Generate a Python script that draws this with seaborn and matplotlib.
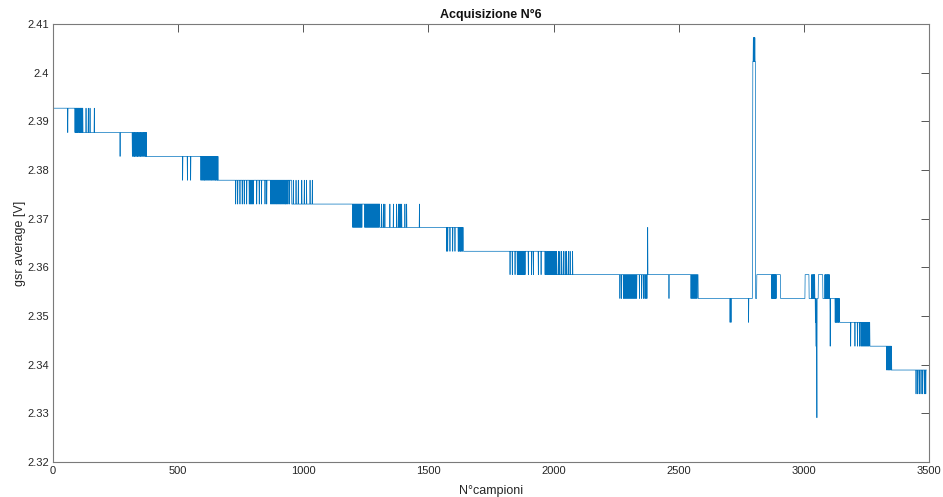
import numpy as np
import pandas as pd
import matplotlib
matplotlib.use('Agg')
import matplotlib.pyplot as plt
import seaborn as sns
from matplotlib.ticker import FuncFormatter

# number of samples
n_samples = 3491

# baseline plateaus: sample where each plateau starts and its level [V]
base_start = [0, 121, 374, 660, 954, 1306, 1640, 1972, 2578, 2812, 2907, 3144, 3264, 3351]
base_level = [2.3927, 2.3877, 2.3828, 2.3779, 2.3730, 2.3682, 2.3633, 2.3585, 2.3536, 2.3585,
              2.3536, 2.3487, 2.3438, 2.3389]

# single-sample flicker to an adjacent quantization level
flick_level = [2.3877, 2.3927, 2.3828, 2.3779, 2.3730, 2.3779, 2.3682, 2.3730, 2.3633,
               2.3585, 2.3633, 2.3536, 2.3536, 2.3585, 2.3438, 2.3487, 2.3438, 2.3389, 2.3340]
flick_at = [
    [59, 88, 91, 94, 97, 100, 104, 107, 110, 114, 117, 120],
    [132, 141, 148, 165],
    [268, 317, 321, 325, 328, 332, 336, 339, 343, 347, 350, 354, 358, 362, 365, 369, 372],
    [518, 537, 550, 591, 595, 599, 603, 606, 610, 614, 618, 621, 625, 629, 633, 636, 640,
     644, 648, 651, 655, 658],
    [730, 738, 747, 756, 764, 774, 784, 788, 792, 796, 800, 814, 824, 833, 847, 854, 870,
     874, 878, 882, 886, 890, 893, 897, 901, 905, 909, 912, 916, 920, 924, 928, 931, 935,
     939, 945],
    [960, 971, 980, 994, 1004, 1013, 1027, 1036],
    [1198, 1202, 1206, 1210, 1214, 1218, 1222, 1226, 1230, 1234, 1246, 1250, 1254,
     1258, 1262, 1266, 1270, 1274, 1278, 1282, 1286, 1290, 1294, 1298, 1302],
    [1313, 1320, 1326, 1346, 1360, 1373, 1380, 1384, 1388, 1393, 1406, 1413, 1464],
    [1573, 1577, 1586, 1597, 1606, 1619, 1622, 1626, 1629, 1633, 1636],
    [1826, 1835, 1846, 1855, 1859, 1863, 1867, 1871, 1875, 1879, 1883, 1886, 1899,
     1912, 1919, 1939, 1950, 1966, 1969],
    [1976, 1980, 1984, 1988, 1992, 1996, 2000, 2004, 2008, 2012, 2019, 2025, 2032, 2039,
     2046, 2052, 2059, 2066, 2076],
    [2265, 2271, 2279, 2283, 2287, 2291, 2295, 2299, 2303, 2307, 2311, 2315, 2319,
     2323, 2327, 2332, 2343, 2352, 2359, 2365, 2369, 2461, 2549, 2553, 2557, 2561, 2565,
     2569, 2573],
    [2871, 2874, 2877, 2880, 2883, 2886, 2889],
    [3031, 3034, 3037, 3040, 3043, 3084, 3087, 3090, 3093, 3096, 3099, 3102],
    [3105],
    [2705, 2709, 2779, 3125, 3128, 3131, 3134, 3137, 3140, 3143],
    [3187, 3204, 3214, 3222, 3228, 3232, 3236, 3240, 3244, 3248, 3252, 3256, 3260],
    [3331, 3334, 3337, 3340, 3343, 3346, 3349],
    [3448, 3455, 3461, 3468, 3474, 3481, 3487],
]

# short runs at another level (start, end, value): pulses near 3000 and top of the big spike
pulse_start = [3005, 3058, 2796]
pulse_end = [3021, 3076, 2807]
pulse_val = [2.3585, 2.3585, 2.4023]

# isolated events (sample, value): spike near 2376, big spike near 2800, dip near 3050
event_at = [2373, 2376, 2379,
            2795, 2798, 2799, 2801, 2802, 2804,
            3046, 3048, 3049, 3051, 3052]
event_val = [2.3536, 2.3682, 2.3585,
             2.3780, 2.4072, 2.4072, 2.4072, 2.4072, 2.4072,
             2.3487, 2.3438, 2.3487, 2.3438, 2.3291]

# build the series from the values above
seg_len = np.diff(base_start + [n_samples])
gsr = np.repeat(base_level, seg_len).astype(float)
for lvl, idx in zip(flick_level, flick_at):
    gsr[idx] = lvl
for a, b, v in zip(pulse_start, pulse_end, pulse_val):
    gsr[a:b] = v
gsr[event_at] = event_val

df = pd.DataFrame({'campione': np.arange(n_samples), 'gsr': gsr})

sns.set_style('white')
plt.rcParams['font.family'] = ['Liberation Sans', 'DejaVu Sans']

fig = plt.figure(figsize=(9.43, 4.97), dpi=100)
ax = fig.add_axes([0.0562, 0.0704, 0.929, 0.8813])

sns.lineplot(data=df, x='campione', y='gsr', ax=ax, color='#0072BD', linewidth=0.5,
             estimator=None, sort=False)

ax.set_xlim(0, 3500)
ax.set_ylim(2.32, 2.41)
ax.set_xticks(np.arange(0, 3501, 500))
ax.set_yticks(np.arange(2.32, 2.4101, 0.01))
ax.yaxis.set_major_formatter(FuncFormatter(lambda v, p: '%g' % round(v, 2)))

ax.tick_params(axis='both', direction='in', length=6, width=0.7, colors='#555555',
               labelcolor='#262626', labelsize=8, top=True, right=True, pad=3)
for s in ax.spines.values():
    s.set_color('#7a7a7a')
    s.set_linewidth(0.8)

ax.set_title('Acquisizione N°6', fontsize=9, fontweight='bold', color='#111111', pad=4)
ax.set_xlabel('N°campioni', fontsize=9, color='#262626', labelpad=6)
ax.set_ylabel('gsr average [V]', fontsize=9, color='#262626', labelpad=1)

fig.savefig('out.png', dpi=100)
